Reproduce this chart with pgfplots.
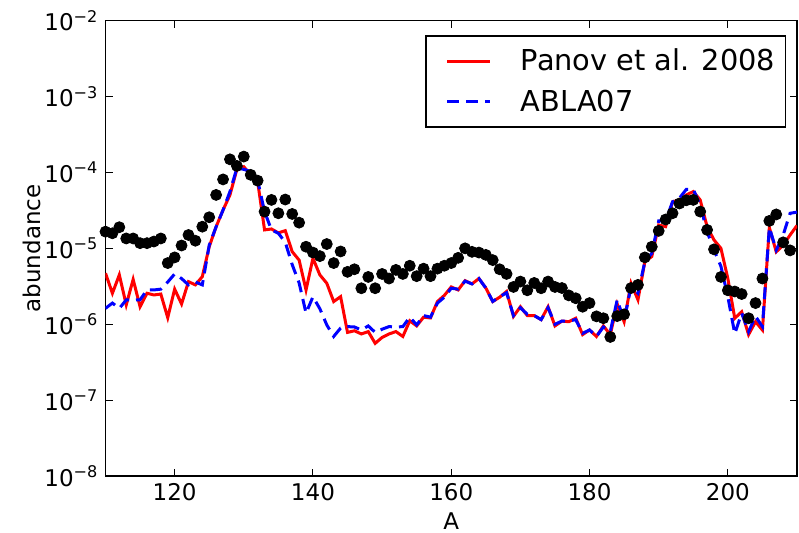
\documentclass[border=0pt]{standalone}
\usepackage{pgfplots}
\usepackage{pgfplotstable}
\pgfplotsset{compat=1.18}
\usepackage{fontspec}
\setmainfont{DejaVu Sans}

% Observed solar r-process abundances (dots)
\pgfplotstableread{
A abund
110 1.66e-5
111 1.58e-5
112 1.9e-5
113 1.35e-5
114 1.35e-5
115 1.17e-5
116 1.17e-5
117 1.23e-5
118 1.35e-5
119 6.4e-6
120 7.6e-6
121 1.09e-5
122 1.5e-5
123 1.26e-5
124 1.93e-5
125 2.57e-5
126 5.06e-5
127 8.1e-5
128 1.49e-4
129 1.22e-4
130 1.62e-4
131 9.3e-5
132 7.8e-5
133 3.05e-5
134 4.35e-5
135 2.9e-5
136 4.4e-5
137 2.84e-5
138 2.18e-5
139 1.05e-5
140 8.8e-6
141 7.9e-6
142 1.14e-5
143 6.4e-6
144 9.1e-6
145 4.9e-6
146 5.3e-6
147 2.98e-6
148 4.2e-6
149 2.98e-6
150 4.6e-6
151 4.0e-6
152 5.2e-6
153 4.6e-6
154 5.9e-6
155 4.3e-6
156 5.4e-6
157 4.3e-6
158 5.4e-6
159 5.9e-6
160 6.4e-6
161 7.5e-6
162 1.0e-5
163 9.0e-6
164 8.8e-6
165 8.2e-6
166 7.0e-6
167 5.3e-6
168 4.6e-6
169 3.1e-6
170 3.65e-6
171 2.8e-6
172 3.5e-6
173 2.98e-6
174 3.65e-6
175 3.1e-6
176 3.0e-6
177 2.4e-6
178 2.2e-6
179 1.7e-6
180 1.9e-6
181 1.27e-6
182 1.2e-6
183 6.8e-7
184 1.28e-6
185 1.35e-6
186 3.0e-6
187 3.3e-6
188 7.6e-6
189 1.05e-5
190 1.7e-5
191 2.4e-5
192 2.9e-5
193 3.9e-5
194 4.3e-5
195 4.35e-5
196 3.05e-5
197 1.75e-5
198 9.7e-6
199 4.2e-6
200 2.8e-6
201 2.7e-6
202 2.5e-6
203 1.2e-6
204 1.9e-6
205 4.0e-6
206 2.3e-5
207 2.8e-5
208 1.2e-5
209 9.4e-6
}\solar

% Panov et al. 2008 fission yields
\pgfplotstableread{
A abund
110 4.7e-6
111 2.56e-6
112 4.47e-6
113 1.8e-6
114 3.9e-6
115 1.7e-6
116 2.56e-6
117 2.43e-6
118 2.5e-6
119 1.22e-6
120 2.9e-6
121 1.85e-6
122 3.64e-6
123 3.3e-6
124 4.24e-6
125 1.05e-5
126 1.93e-5
127 3.2e-5
128 5.06e-5
129 1.1e-4
130 1.19e-4
131 9.3e-5
132 7.6e-5
133 1.75e-5
134 1.8e-5
135 1.6e-5
136 1.71e-5
137 9.05e-6
138 7.0e-6
139 2.83e-6
140 7.4e-6
141 4.47e-6
142 3.47e-6
143 1.99e-6
144 2.31e-6
145 7.8e-7
146 8.2e-7
147 7.45e-7
148 8.0e-7
149 5.6e-7
150 6.7e-7
151 7.45e-7
152 8.0e-7
153 6.9e-7
154 1.11e-6
155 9.5e-7
156 1.24e-6
157 1.21e-6
158 1.99e-6
159 2.4e-6
160 3.1e-6
161 2.83e-6
162 3.75e-6
163 3.4e-6
164 4.0e-6
165 3.0e-6
166 1.99e-6
167 2.27e-6
168 2.7e-6
169 1.27e-6
170 1.7e-6
171 1.3e-6
172 1.3e-6
173 1.15e-6
174 1.7e-6
175 9.5e-7
176 1.1e-6
177 1.08e-6
178 1.2e-6
179 7.3e-7
180 8.4e-7
181 6.9e-7
182 9.5e-7
183 7.3e-7
184 1.85e-6
185 1.08e-6
186 3.47e-6
187 2.1e-6
188 6.7e-6
189 7.8e-6
190 2.03e-5
191 1.93e-5
192 4.1e-5
193 4.35e-5
194 5.06e-5
195 5.6e-5
196 4.35e-5
197 1.93e-5
198 1.29e-5
199 1.0e-5
200 4.0e-6
201 1.2e-6
202 1.46e-6
203 7.3e-7
204 1.08e-6
205 8.4e-7
206 1.88e-5
207 9.0e-6
208 1.1e-5
209 1.5e-5
210 2.0e-5
}\panov

% ABLA07 fission yields
\pgfplotstableread{
A abund
110 1.62e-6
111 1.9e-6
112 1.62e-6
113 2.09e-6
114 2.09e-6
115 2.1e-6
116 2.83e-6
117 2.83e-6
118 2.9e-6
119 3.6e-6
120 4.6e-6
121 4.0e-6
122 3.3e-6
123 3.6e-6
124 3.3e-6
125 1.1e-5
126 1.93e-5
127 3.2e-5
128 5.6e-5
129 1.14e-4
130 1.1e-4
131 1.03e-4
132 7.9e-5
133 3.05e-5
134 1.75e-5
135 1.58e-5
136 1.2e-5
137 6.1e-6
138 3.5e-6
139 1.4e-6
140 2.3e-6
141 1.6e-6
142 9.8e-7
143 6.9e-7
144 8.9e-7
145 9.3e-7
146 9.2e-7
147 8.4e-7
148 9.5e-7
149 7.8e-7
150 8.6e-7
151 9.3e-7
152 9.2e-7
153 9.3e-7
154 1.24e-6
155 9.8e-7
156 1.3e-6
157 1.24e-6
158 1.9e-6
159 2.27e-6
160 2.98e-6
161 2.9e-6
162 3.7e-6
163 3.4e-6
164 4.0e-6
165 3.0e-6
166 2.0e-6
167 2.3e-6
168 2.6e-6
169 1.3e-6
170 1.65e-6
171 1.35e-6
172 1.3e-6
173 1.15e-6
174 1.65e-6
175 1.0e-6
176 1.1e-6
177 1.1e-6
178 1.15e-6
179 7.6e-7
180 8.4e-7
181 6.9e-7
182 9.2e-7
183 8.0e-7
184 2.1e-6
185 1.13e-6
186 3.1e-6
187 2.56e-6
188 6.7e-6
189 8.6e-6
190 2.3e-5
191 2.3e-5
192 4.1e-5
193 4.6e-5
194 6.0e-5
195 6.0e-5
196 3.7e-5
197 1.66e-5
198 9.5e-6
199 5.8e-6
200 2.3e-6
201 7.5e-7
202 1.4e-6
203 8.0e-7
204 1.27e-6
205 9.3e-7
206 1.88e-5
207 9.5e-6
208 1.5e-5
209 2.9e-5
210 3.0e-5
}\abla

\begin{document}
\begin{tikzpicture}
\begin{axis}[
  scale only axis,
  width=345.75pt, height=227.65pt,
  ymode=log, log basis y=10,
  xmin=110, xmax=210,
  ymin=1e-8, ymax=1e-2,
  xtick={120,140,160,180,200},
  ytick={1e-8,1e-7,1e-6,1e-5,1e-4,1e-3,1e-2},
  yticklabels={10\textsuperscript{−8},10\textsuperscript{−7},10\textsuperscript{−6},10\textsuperscript{−5},10\textsuperscript{−4},10\textsuperscript{−3},10\textsuperscript{−2}},
  xticklabel style={/pgf/number format/assume math mode=true, font=\fontsize{11.5}{13}\selectfont},
  yticklabel style={font=\fontsize{11.5}{13}\selectfont},
  tick align=inside,
  major tick length=3.5pt,
  minor tick length=1.8pt,
  tick style={black, line width=0.5pt},
  axis line style={line width=0.75pt},
  xlabel={A},
  ylabel={abundance},
  every axis x label/.style={at={(axis description cs:0.5,-0.0988)}, anchor=center,
    inner sep=0pt, font=\fontsize{11.5}{13}\selectfont},
  every axis y label/.style={at={(axis description cs:-0.1063,0.5)}, rotate=90, anchor=center,
    inner sep=0pt, font=\fontsize{11.5}{13}\selectfont},
  legend style={at={(axis description cs:1,1)}, anchor=north east,
    xshift=-5.5pt, yshift=-7.2pt,
    draw=black, line width=0.75pt,
    font=\fontsize{14.4}{17}\selectfont,
    inner xsep=3pt, inner ysep=4.5pt, row sep=4pt,
    legend cell align=left},
  legend image code/.code={\draw[#1] (0pt,0pt) -- (21.5pt,0pt);
    \path (-7pt,0pt) (34pt,0pt);},
  clip=true,
]
\addplot[only marks, mark=*, mark size=2.75pt, black, forget plot] table[x=A, y=abund] {\solar};
\addplot[red, line width=1.5pt] table[x=A, y=abund] {\panov};
\addlegendentry{Panov et al. 2008}
\addplot[blue, line width=1.5pt, dash pattern=on 6pt off 3.5pt] table[x=A, y=abund] {\abla};
\addlegendentry{ABLA07}
\end{axis}
\pgfresetboundingbox
\path (-52.75pt,-28.5pt) rectangle (346.75pt,238pt);
\end{tikzpicture}
\end{document}
